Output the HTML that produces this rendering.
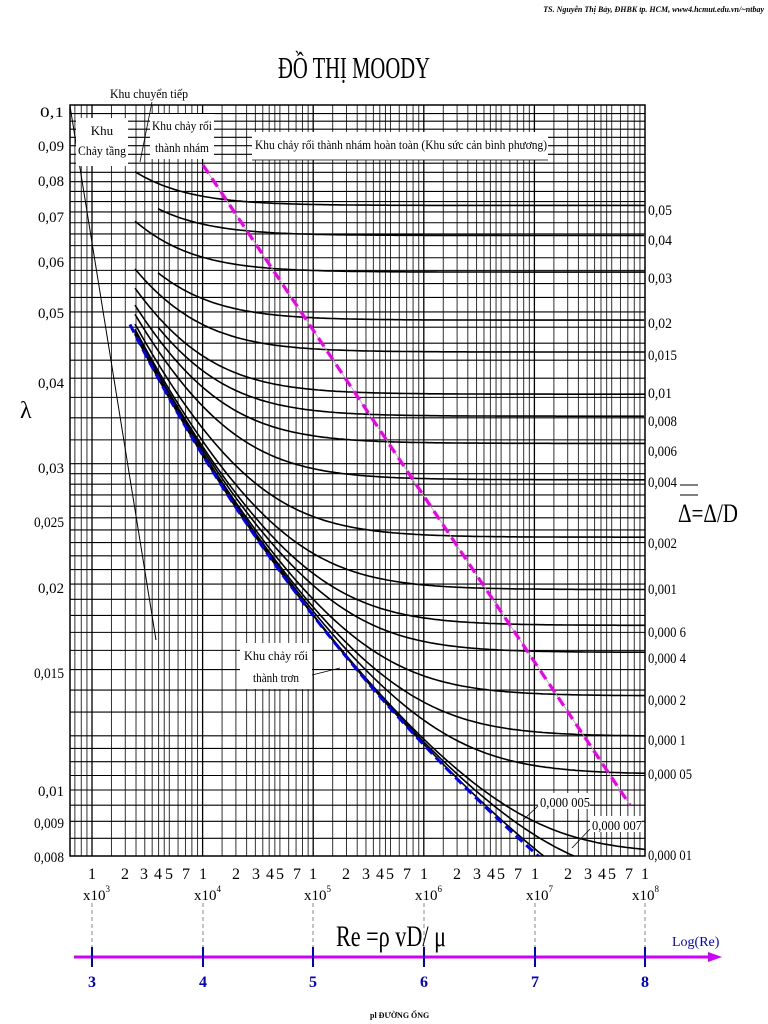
<!DOCTYPE html>
<html><head><meta charset="utf-8"><style>
html,body{margin:0;padding:0;background:#fff;}
svg{display:block;}
text{font-family:"Liberation Serif","DejaVu Serif",serif;fill:#000;}
</style></head><body>
<svg id="s" width="768" height="1024" viewBox="0 0 768 1024" xmlns="http://www.w3.org/2000/svg">
<defs><clipPath id="cp"><rect x="70" y="105" width="575" height="751"/></clipPath></defs>
<g id="grid"></g>
<g id="curves" clip-path="url(#cp)"></g>
<rect x="70" y="105" width="575" height="751" fill="none" stroke="#000" stroke-width="1.5"/>

<text x="764" y="12" font-size="8" font-style="italic" text-anchor="end" font-weight="bold">TS. Nguyễn Thị Bảy, ĐHBK tp. HCM, www4.hcmut.edu.vn/~ntbay</text>
<text x="354" y="78" font-size="31" text-anchor="middle" textLength="152" lengthAdjust="spacingAndGlyphs">ĐỒ THỊ MOODY</text>

<!-- annotations -->
<text x="110" y="98" font-size="13" textLength="78" lengthAdjust="spacingAndGlyphs">Khu chuyển tiếp</text>
<line x1="140" y1="162" x2="152" y2="102" stroke="#000" stroke-width="0.8"/>
<rect x="76" y="118" width="52" height="48" fill="#fff"/>
<text x="102" y="135" font-size="13" text-anchor="middle">Khu</text>
<text x="102" y="155" font-size="13" text-anchor="middle" textLength="48" lengthAdjust="spacingAndGlyphs">Chảy tầng</text>
<rect x="150" y="114" width="64" height="45" fill="#fff"/>
<text x="182" y="130" font-size="13" text-anchor="middle" textLength="60" lengthAdjust="spacingAndGlyphs">Khu chảy rối</text>
<text x="182" y="152" font-size="13" text-anchor="middle" textLength="54" lengthAdjust="spacingAndGlyphs">thành nhám</text>
<rect x="252" y="132" width="296" height="28" fill="#fff"/>
<line x1="252" y1="160" x2="548" y2="160" stroke="#000" stroke-width="0.8"/>
<text x="255" y="149" font-size="13" textLength="292" lengthAdjust="spacingAndGlyphs">Khu chảy rối thành nhám hoàn toàn (Khu sức cản bình phương)</text>
<rect x="240" y="643" width="72" height="46" fill="#fff"/>
<text x="276" y="660" font-size="13" text-anchor="middle" textLength="64" lengthAdjust="spacingAndGlyphs">Khu chảy rối</text>
<text x="276" y="682" font-size="13" text-anchor="middle" textLength="46" lengthAdjust="spacingAndGlyphs">thành trơn</text>
<line x1="312" y1="675" x2="340" y2="668" stroke="#000" stroke-width="0.8"/>
<rect x="538" y="793" width="52" height="16" fill="#fff"/>
<text x="540" y="807" font-size="14" textLength="50" lengthAdjust="spacingAndGlyphs">0,000 005</text>
<line x1="538" y1="806" x2="523" y2="820" stroke="#000" stroke-width="0.8"/>
<rect x="590" y="816" width="52" height="16" fill="#fff"/>
<text x="592" y="830" font-size="14" textLength="50" lengthAdjust="spacingAndGlyphs">0,000 007</text>
<line x1="590" y1="829" x2="572" y2="848" stroke="#000" stroke-width="0.8"/>

<!-- y labels -->
<g font-size="15" text-anchor="end">
<text x="64" y="117" textLength="24" lengthAdjust="spacingAndGlyphs">0,1</text>
<text x="64" y="151" textLength="26" lengthAdjust="spacingAndGlyphs">0,09</text>
<text x="64" y="186" textLength="26" lengthAdjust="spacingAndGlyphs">0,08</text>
<text x="64" y="222" textLength="26" lengthAdjust="spacingAndGlyphs">0,07</text>
<text x="64" y="267" textLength="26" lengthAdjust="spacingAndGlyphs">0,06</text>
<text x="64" y="318" textLength="26" lengthAdjust="spacingAndGlyphs">0,05</text>
<text x="64" y="388" textLength="26" lengthAdjust="spacingAndGlyphs">0,04</text>
<text x="64" y="473" textLength="26" lengthAdjust="spacingAndGlyphs">0,03</text>
<text x="64" y="527" textLength="30" lengthAdjust="spacingAndGlyphs">0,025</text>
<text x="64" y="593" textLength="26" lengthAdjust="spacingAndGlyphs">0,02</text>
<text x="64" y="678" textLength="30" lengthAdjust="spacingAndGlyphs">0,015</text>
<text x="64" y="796" textLength="26" lengthAdjust="spacingAndGlyphs">0,01</text>
<text x="64" y="828" textLength="30" lengthAdjust="spacingAndGlyphs">0,009</text>
<text x="64" y="862" textLength="30" lengthAdjust="spacingAndGlyphs">0,008</text>
</g>
<text x="20" y="418" font-size="24" font-family="DejaVu Serif,serif">λ</text>

<!-- right labels -->
<g font-size="15">
<text x="648" y="215" textLength="24" lengthAdjust="spacingAndGlyphs">0,05</text>
<text x="648" y="245" textLength="24" lengthAdjust="spacingAndGlyphs">0,04</text>
<text x="648" y="283" textLength="24" lengthAdjust="spacingAndGlyphs">0,03</text>
<text x="648" y="328" textLength="24" lengthAdjust="spacingAndGlyphs">0,02</text>
<text x="648" y="360" textLength="29" lengthAdjust="spacingAndGlyphs">0,015</text>
<text x="648" y="398" textLength="24" lengthAdjust="spacingAndGlyphs">0,01</text>
<text x="648" y="426" textLength="29" lengthAdjust="spacingAndGlyphs">0,008</text>
<text x="648" y="456" textLength="29" lengthAdjust="spacingAndGlyphs">0,006</text>
<text x="648" y="487" textLength="29" lengthAdjust="spacingAndGlyphs">0,004</text>
<text x="648" y="548" textLength="29" lengthAdjust="spacingAndGlyphs">0,002</text>
<text x="648" y="594" textLength="29" lengthAdjust="spacingAndGlyphs">0,001</text>
<text x="648" y="637" textLength="38" lengthAdjust="spacingAndGlyphs">0,000 6</text>
<text x="648" y="663" textLength="38" lengthAdjust="spacingAndGlyphs">0,000 4</text>
<text x="648" y="705" textLength="38" lengthAdjust="spacingAndGlyphs">0,000 2</text>
<text x="648" y="745" textLength="38" lengthAdjust="spacingAndGlyphs">0,000 1</text>
<text x="648" y="779" textLength="44" lengthAdjust="spacingAndGlyphs">0,000 05</text>
<text x="648" y="860" textLength="44" lengthAdjust="spacingAndGlyphs">0,000 01</text>
</g>
<line x1="680" y1="485" x2="698" y2="485" stroke="#000" stroke-width="1"/>
<line x1="680" y1="495" x2="698" y2="495" stroke="#000" stroke-width="1"/>
<text x="678" y="522" font-size="26" textLength="60" lengthAdjust="spacingAndGlyphs">Δ=Δ/D</text>

<!-- x tick labels -->
<g id="xl" font-size="16" text-anchor="middle">
<text x="92" y="879">1</text><text x="125" y="879">2</text><text x="144" y="879">3</text><text x="158" y="879">4</text><text x="169" y="879">5</text><text x="186" y="879">7</text>
<text x="203" y="879">1</text><text x="236" y="879">2</text><text x="256" y="879">3</text><text x="270" y="879">4</text><text x="280" y="879">5</text><text x="297" y="879">7</text>
<text x="313" y="879">1</text><text x="346" y="879">2</text><text x="366" y="879">3</text><text x="380" y="879">4</text><text x="390" y="879">5</text><text x="407" y="879">7</text>
<text x="424" y="879">1</text><text x="457" y="879">2</text><text x="477" y="879">3</text><text x="491" y="879">4</text><text x="501" y="879">5</text><text x="518" y="879">7</text>
<text x="535" y="879">1</text><text x="568" y="879">2</text><text x="588" y="879">3</text><text x="602" y="879">4</text><text x="612" y="879">5</text><text x="629" y="879">7</text>
<text x="645" y="879">1</text>
</g>
<g font-size="15">
<text x="83" y="900">x10<tspan font-size="9" dy="-8">3</tspan></text>
<text x="194" y="900">x10<tspan font-size="9" dy="-8">4</tspan></text>
<text x="304" y="900">x10<tspan font-size="9" dy="-8">5</tspan></text>
<text x="415" y="900">x10<tspan font-size="9" dy="-8">6</tspan></text>
<text x="526" y="900">x10<tspan font-size="9" dy="-8">7</tspan></text>
<text x="632" y="900">x10<tspan font-size="9" dy="-8">8</tspan></text>
</g>
<g stroke="#888" stroke-width="1" stroke-dasharray="4,3">
<line x1="92" y1="903" x2="92" y2="957"/><line x1="203" y1="903" x2="203" y2="957"/><line x1="313" y1="903" x2="313" y2="957"/>
<line x1="424" y1="903" x2="424" y2="957"/><line x1="535" y1="903" x2="535" y2="957"/><line x1="645" y1="903" x2="645" y2="957"/>
</g>
<text x="336" y="946" font-size="30" textLength="110" lengthAdjust="spacingAndGlyphs">Re =ρ vD/ μ</text>
<text x="672" y="946" font-size="14" fill="#0000cc" style="fill:#0000cc">Log(Re)</text>
<line x1="74" y1="957" x2="712" y2="957" stroke="#cc00ff" stroke-width="3"/>
<polygon points="722,957 708,952 708,962" fill="#cc00ff"/>
<g stroke="#0000cc" stroke-width="2">
<line x1="92" y1="947" x2="92" y2="967"/><line x1="203" y1="947" x2="203" y2="967"/><line x1="313" y1="947" x2="313" y2="967"/>
<line x1="424" y1="947" x2="424" y2="967"/><line x1="535" y1="947" x2="535" y2="967"/><line x1="645" y1="947" x2="645" y2="967"/>
</g>
<g font-size="16" font-weight="bold" text-anchor="middle" style="fill:#0000cc">
<text x="92" y="987" style="fill:#0000cc">3</text><text x="203" y="987" style="fill:#0000cc">4</text><text x="313" y="987" style="fill:#0000cc">5</text>
<text x="424" y="987" style="fill:#0000cc">6</text><text x="535" y="987" style="fill:#0000cc">7</text><text x="645" y="987" style="fill:#0000cc">8</text>
</g>
<text x="370" y="1018" font-size="8" font-weight="bold">pl ĐƯỜNG ỐNG</text>
</svg>
<script>
(function(){
var NS="http://www.w3.org/2000/svg";
function X(re){return 92+110.6*(Math.log10(re)-3);}
function Y(l){return 106+684*(-Math.log10(l)-1);}
function el(p,t,a){var e=document.createElementNS(NS,t);for(var k in a)e.setAttribute(k,a[k]);p.appendChild(e);return e;}
var g=document.getElementById('grid'),c=document.getElementById('curves');
// vertical grid
var m=[1,1.5,2,2.5,3,3.5,4,4.5,5,6,7,8,9];
for(var d=2;d<8;d++)for(var i=0;i<m.length;i++){var x=X(m[i]*Math.pow(10,d));if(x<70||x>645)continue;
el(g,'line',{x1:x,y1:105,x2:x,y2:856,stroke:(m[i]==1?'#000':'#333'),'stroke-width':(m[i]==1?1.3:1)});}
// horizontal grid
var hs=[];var v;
for(v=0.008;v<0.0121;v+=0.0005)hs.push(v);
for(v=0.013;v<0.0301;v+=0.001)hs.push(v);
for(v=0.0325;v<0.1;v+=0.0025)hs.push(v);
hs.forEach(function(l){var y=Y(l);if(y<105||y>856)return;el(g,'line',{x1:70,y1:y,x2:645,y2:y,stroke:'#000','stroke-width':1.1});});
// laminar
el(c,'line',{x1:70,y1:106,x2:156,y2:640,stroke:'#000','stroke-width':1});
function cb(re,e){var l=0.03;for(var k=0;k<40;k++){var s=-2*Math.log10(e/3.7+2.51/(re*Math.sqrt(l)));l=1/(s*s);}return l;}
var eps=[[0.05,135],[0.04,158],[0.03,135],[0.02,158],[0.015,135],[0.01,135],[0.008,158],[0.006,135],[0.004,135],[0.002,135],[0.001,135],[0.0006,135],[0.0004,135],[0.0002,135],[0.0001,135],[0.00005,135],[0.00001,135],[0.000005,135],[0.000001,135]];
eps.forEach(function(p){var pts=[];for(var x=p[1];x<=646;x+=3){var re=Math.pow(10,3+(x-92)/110.6);pts.push(x.toFixed(1)+','+Y(cb(re,p[0])).toFixed(1));}
el(c,'polyline',{points:pts.join(' '),fill:'none',stroke:'#000','stroke-width':1.6});});
// smooth
var sp=[];for(var x=130;x<=545;x+=3){var re=Math.pow(10,3+(x-92)/110.6);sp.push(x+','+Y(cb(re,0)).toFixed(1));}
el(c,'polyline',{points:sp.join(' '),fill:'none',stroke:'#0000ee','stroke-width':3,'stroke-dasharray':'9,5'});
// magenta boundary
el(c,'line',{x1:203,y1:165,x2:630,y2:805,stroke:'#aaa','stroke-width':0.8});
el(c,'line',{x1:203,y1:165,x2:630,y2:805,stroke:'#ee00ee','stroke-width':3.2,'stroke-dasharray':'10,6'});
})();
</script>
</body></html>
